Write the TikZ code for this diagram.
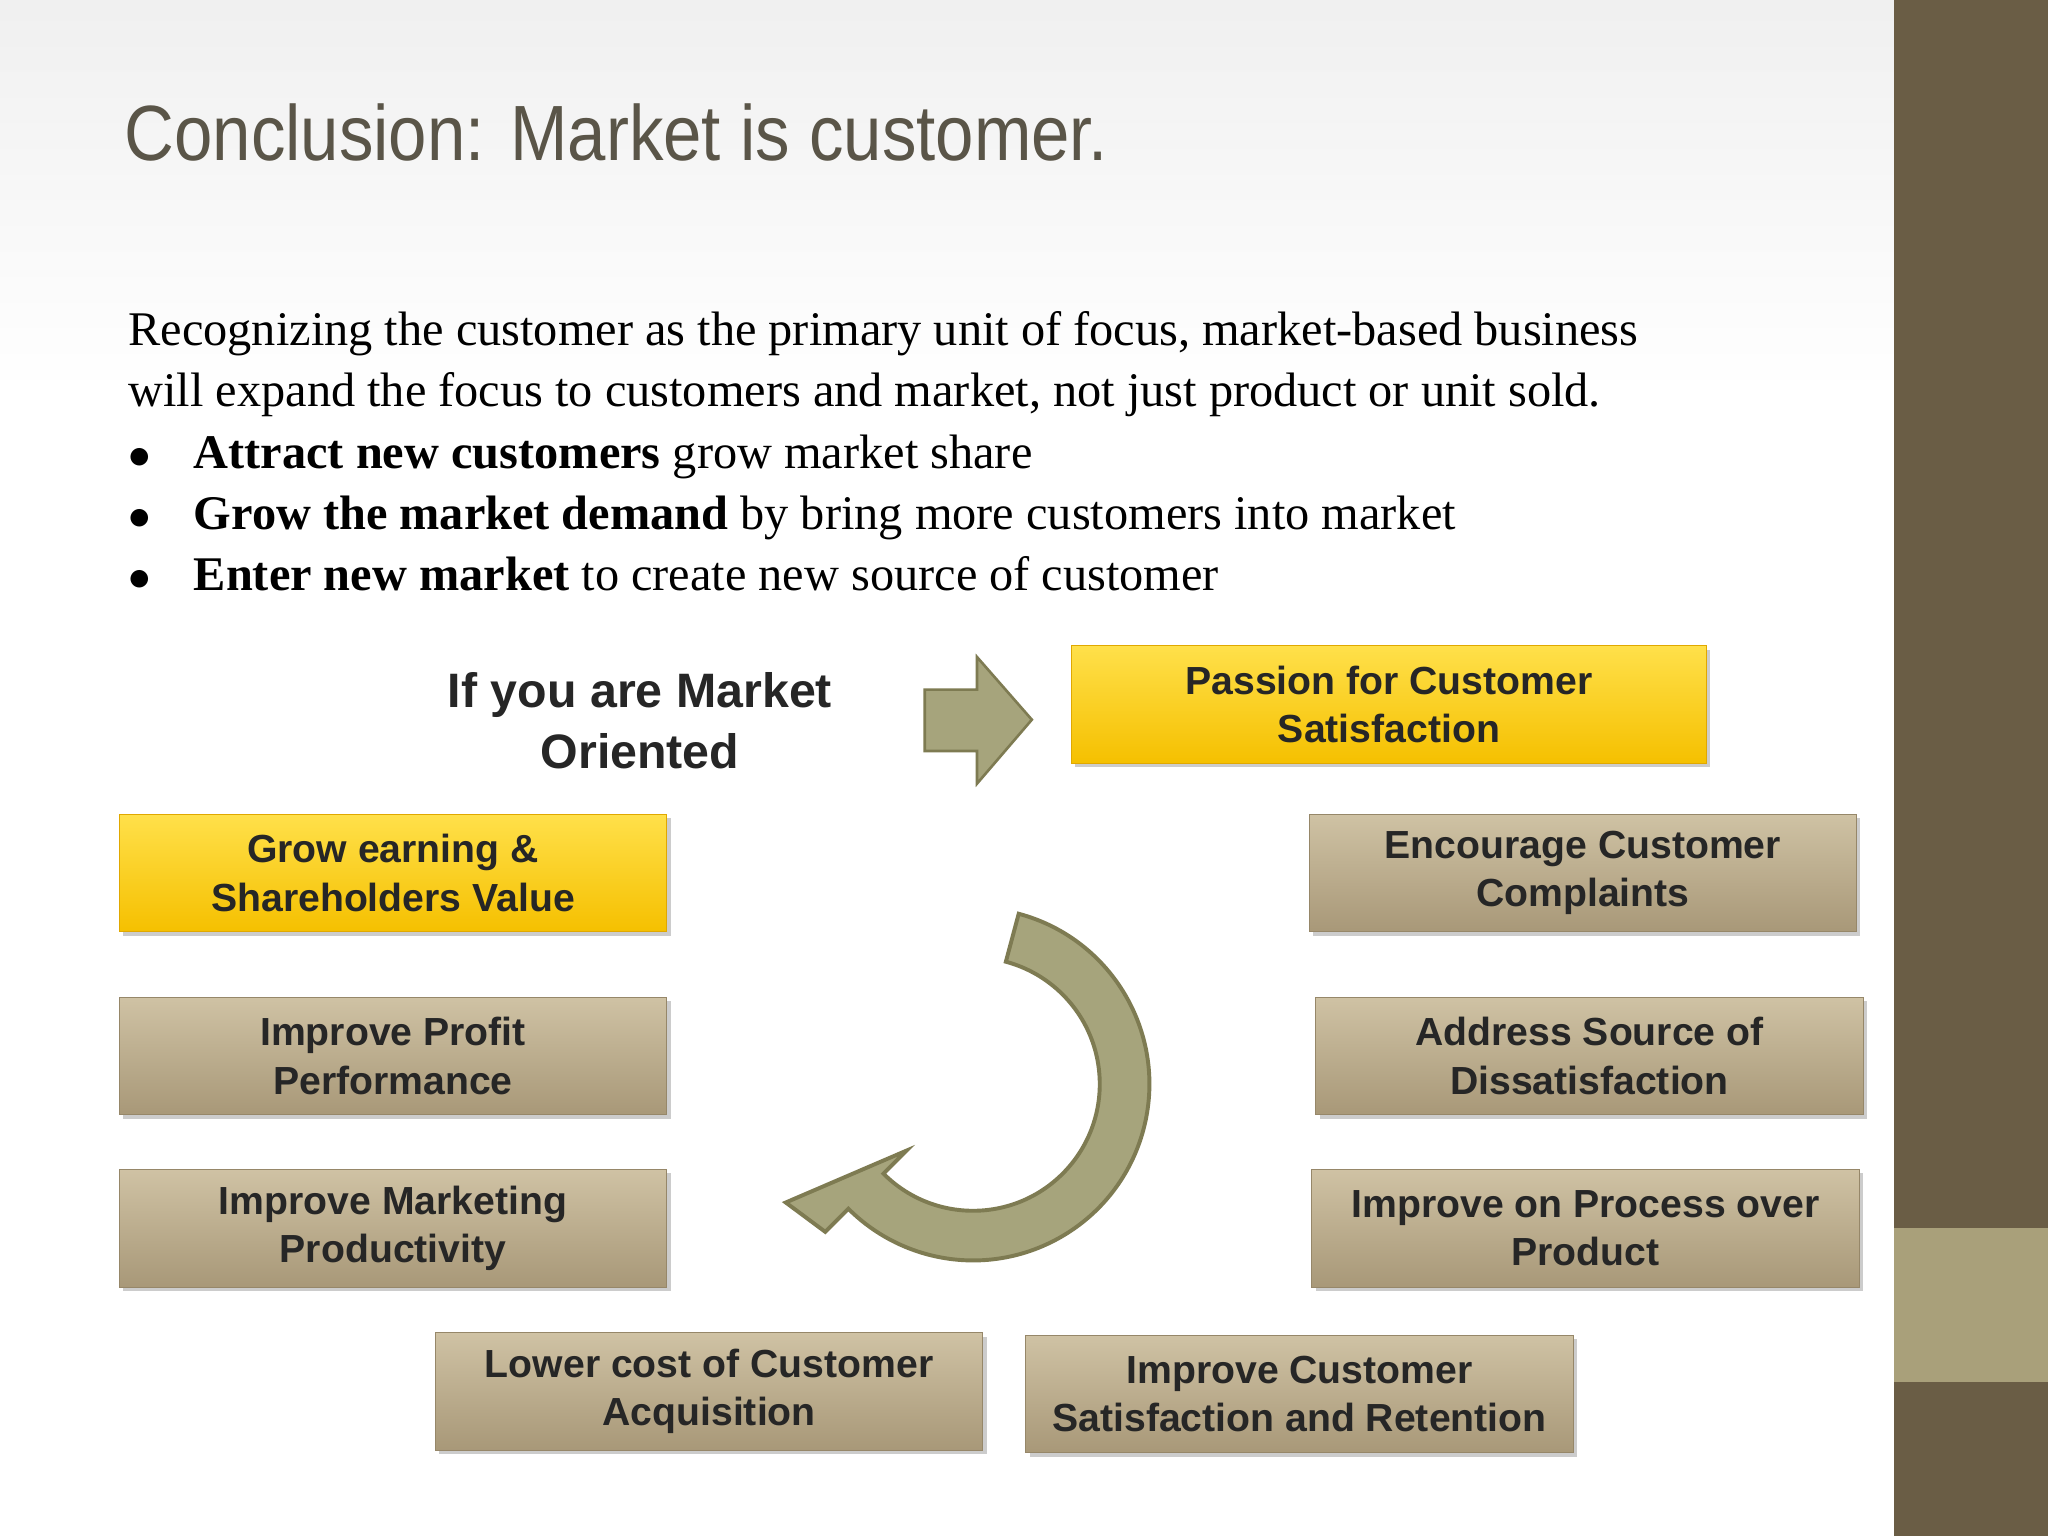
\documentclass[tikz,border=0pt]{standalone}
\usepackage{fontspec}
\setmainfont{Liberation Serif}
\setsansfont{Liberation Sans}
\usetikzlibrary{shadows,calc}
\definecolor{bar}{HTML}{6A5D45}
\definecolor{barlt}{HTML}{A9A07A}
\definecolor{ttl}{HTML}{5A5548}
\definecolor{olive}{HTML}{A6A47C}
\definecolor{oliveD}{HTML}{7E7B52}
\definecolor{tanT}{HTML}{CFC2A4}
\definecolor{tanB}{HTML}{A89878}
\definecolor{tanD}{HTML}{968769}
\definecolor{goldT}{HTML}{FFE04A}
\definecolor{goldB}{HTML}{F5C000}
\definecolor{goldD}{HTML}{E0A800}
\tikzset{
 bx/.style={minimum width=209.5pt,minimum height=45pt,align=center,font=\sffamily\bfseries\fontsize{15}{18.5}\selectfont,text=black!85,anchor=north west,drop shadow={shadow xshift=1.5pt,shadow yshift=-1.5pt,opacity=0.4}},
 gold/.style={bx,top color=goldT,bottom color=goldB,draw=goldD},
 tan/.style={bx,top color=tanT,bottom color=tanB,draw=tanD},
}
\begin{document}
\begin{tikzpicture}[x=0.5pt,y=-0.5pt]
\useasboundingbox (0,0) rectangle (1568,1176);
\shade[top color=gray!12,bottom color=white] (0,0) rectangle (1450,300);
\fill[white] (0,300) rectangle (1450,1176);
\fill[bar] (1450,0) rectangle (1568,1176);
\fill[barlt] (1450,940) rectangle (1568,1058);
\node[anchor=base west,font=\sffamily\fontsize{30}{36}\selectfont,text=ttl,xscale=0.88,inner sep=0pt] (title) at (95,123) {Conclusion: Market is customer.};
\node[anchor=north west,align=left,font=\fontsize{18.5}{23.5}\selectfont,inner sep=0pt] (para) at (98,238) {Recognizing the customer as the primary unit of focus, market-based business\\ will expand the focus to customers and market, not just product or unit sold.\\
\makebox[25pt][l]{$\bullet$}\textbf{Attract new customers} grow market share\\
\makebox[25pt][l]{$\bullet$}\textbf{Grow the market demand} by bring more customers into market\\
\makebox[25pt][l]{$\bullet$}\textbf{Enter new market} to create new source of customer};
\node[align=center,font=\sffamily\bfseries\fontsize{18.5}{23.5}\selectfont,text=black!85] (mo) at (490,552) {If you are Market\\Oriented};
\draw[fill=olive,draw=oliveD,line width=1pt] (708,528) -- (748,528) -- (748,503) -- (790,551) -- (748,600) -- (748,575) -- (708,575) -- cycle;
\node[gold,minimum width=243pt] (b1) at (820,494) {Passion for Customer\\Satisfaction};
\node[gold] (b2) at (91,623) {Grow earning \&\\Shareholders Value};
\node[tan] (b3) at (1002,623) {Encourage Customer\\Complaints};
\node[tan] (b4) at (91,763) {Improve Profit\\Performance};
\node[tan] (b5) at (1007,763) {Address Source of\\Dissatisfaction};
\node[tan] (b6) at (91,895) {Improve Marketing\\Productivity};
\node[tan] (b7) at (1004,895) {Improve on Process over\\Product};
\node[tan] (b8) at (333,1020) {Lower cost of Customer\\Acquisition};
\node[tan] (b9) at (785,1022) {Improve Customer\\Satisfaction and Retention};
\coordinate (c) at (745,830);
\fill[olive,draw=oliveD,line width=1.5pt]
  ($(c)+(-75:135)$) arc[start angle=-75,end angle=135,radius=135]
  -- ($(c)+(135:160)$)
  -- ($(c)+(135:116)+(172:62)$)
  -- ($(c)+(135:72)$)
  -- ($(c)+(135:97)$) arc[start angle=135,end angle=-75,radius=97] -- cycle;
\end{tikzpicture}
\end{document}
